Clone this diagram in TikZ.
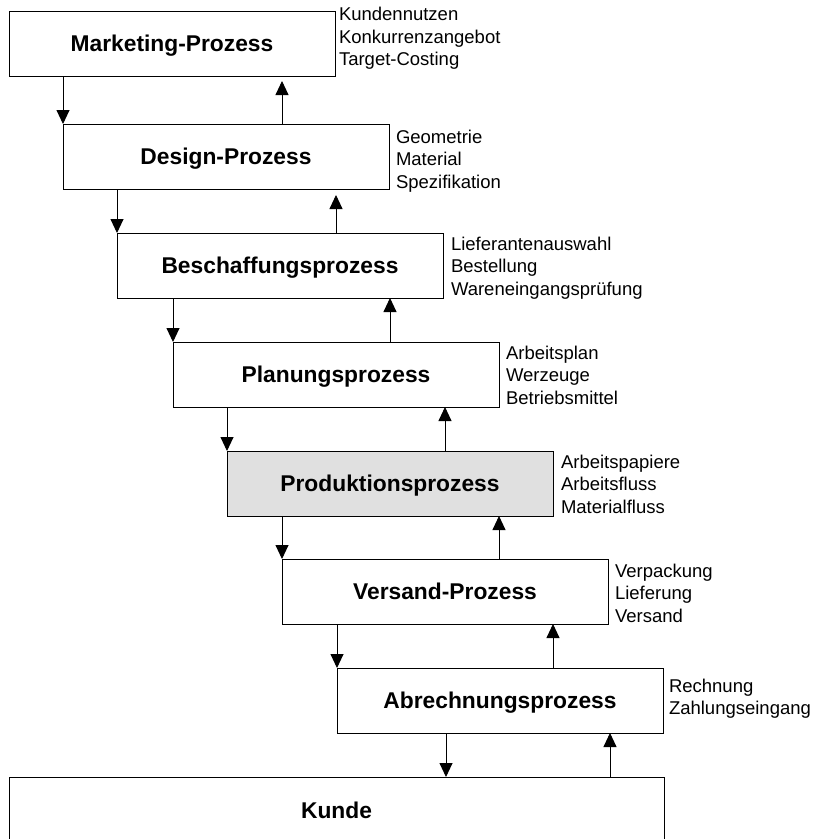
\documentclass[tikz,border=0pt]{standalone}
\usepackage{fontspec}
\setmainfont{Liberation Sans}
\usetikzlibrary{arrows.meta}
\definecolor{prodgray}{RGB}{224,224,224}
\begin{document}
\begin{tikzpicture}[x=1pt,y=-1pt,
  proc/.style={draw=black, line width=0.9pt, fill=white, inner sep=0pt, outer sep=0pt,
    minimum width=326pt, minimum height=65pt, anchor=north west,
    font=\fontsize{22.8}{26}\selectfont\bfseries, text height=16.4pt, text depth=0pt},
  notes/.style={anchor=north west, inner sep=0pt, outer sep=0pt, align=left,
    font=\fontsize{18.5}{22.7}\selectfont},
  flow/.style={line width=0.9pt, -{Triangle[length=14pt,width=13pt]}},
  back/.style={flow},
]
\useasboundingbox (0,0) rectangle (814,839);
\clip (0,0) rectangle (814,839);

% process chain
\node[proc] (mk) at (9,11)   {Marketing-Prozess};
\node[proc] (ds) at (63,124) {Design-Prozess};
\node[proc] (bs) at (117,233) {Beschaffungsprozess};
\node[proc] (pl) at (173,342) {Planungsprozess};
\node[proc, fill=prodgray] (pd) at (227,451) {Produktionsprozess};
\node[proc] (vs) at (282,559) {Versand-Prozess};
\node[proc] (ab) at (337,668) {Abrechnungsprozess};
\node[proc, minimum width=655pt, minimum height=66pt] (kd) at (9,777) {Kunde};

% side notes
\node[notes] (nmk) at (339,6.5) {\rule{0pt}{14pt}Kundennutzen\\Konkurrenzangebot\\Target-Costing};
\node[notes] (nds) at (396,129) {\rule{0pt}{14pt}Geometrie\\Material\\Spezifikation};
\node[notes] (nbs) at (451,236) {\rule{0pt}{14pt}Lieferantenauswahl\\Bestellung\\Wareneingangsprüfung};
\node[notes] (npl) at (506,345) {\rule{0pt}{14pt}Arbeitsplan\\Werzeuge\\Betriebsmittel};
\node[notes] (npd) at (561,454) {\rule{0pt}{14pt}Arbeitspapiere\\Arbeitsfluss\\Materialfluss};
\node[notes] (nvs) at (615,563) {\rule{0pt}{14pt}Verpackung\\Lieferung\\Versand};
\node[notes] (nab) at (669,678) {\rule{0pt}{14pt}Rechnung\\Zahlungseingang};

% downward flow
\draw[flow] (ds.north west |- mk.south) -- (ds.north west);
\draw[flow] (bs.north west |- ds.south) -- (bs.north west);
\draw[flow] (pl.north west |- bs.south) -- (pl.north west);
\draw[flow] (pd.north west |- pl.south) -- (pd.north west);
\draw[flow] (vs.north west |- pd.south) -- (vs.north west);
\draw[flow] (ab.north west |- vs.south) -- (ab.north west);
\draw[flow] ([xshift=109pt]ab.south west) -- ([xshift=109pt]ab.south west |- kd.north);

% feedback
\draw[back, shorten >=5pt] ([xshift=273pt]mk.south west |- ds.north) -- ([xshift=273pt]mk.south west);
\draw[back, shorten >=6pt] ([xshift=273pt]ds.south west |- bs.north) -- ([xshift=273pt]ds.south west);
\draw[back] ([xshift=273pt]bs.south west |- pl.north) -- ([xshift=273pt]bs.south west);
\draw[back] ([xshift=272pt]pl.south west |- pd.north) -- ([xshift=272pt]pl.south west);
\draw[back] ([xshift=272pt]pd.south west |- vs.north) -- ([xshift=272pt]pd.south west);
\draw[back] ([xshift=271pt]vs.south west |- ab.north) -- ([xshift=271pt]vs.south west);
\draw[back] ([xshift=273pt]ab.south west |- kd.north) -- ([xshift=273pt]ab.south west);
\end{tikzpicture}
\end{document}
